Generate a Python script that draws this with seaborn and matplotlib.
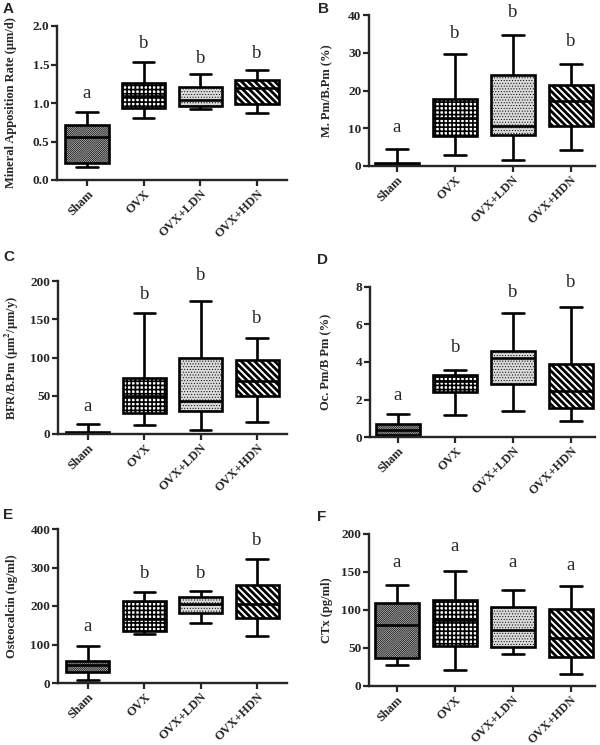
import matplotlib
matplotlib.use("Agg")
import matplotlib.pyplot as plt
import pandas as pd
import seaborn as sns

# groups and box summaries: [min, q1, median, q3, max]
groups = ["Sham", "OVX", "OVX+LDN", "OVX+HDN"]

mar = [[0.17, 0.22, 0.56, 0.71, 0.88],
       [0.80, 0.935, 1.09, 1.26, 1.53],
       [0.92, 0.96, 1.04, 1.21, 1.38],
       [0.87, 0.99, 1.20, 1.30, 1.43]]
mpm = [[0.0, 0.0, 0.3, 0.9, 4.5],
       [2.9, 8.05, 12.6, 17.7, 29.6],
       [1.5, 8.2, 10.6, 24.2, 34.8],
       [4.25, 10.7, 17.3, 21.5, 27.1]]
bfr = [[0.0, 0.5, 1.5, 3.0, 12.5],
       [12.2, 27.4, 49.6, 73.5, 158],
       [5.2, 30.4, 43, 100, 173.5],
       [15.7, 50, 69.6, 96.5, 126]]
ocpm = [[0.07, 0.12, 0.40, 0.71, 1.24],
        [1.16, 2.40, 3.0, 3.32, 3.56],
        [1.39, 2.84, 4.23, 4.59, 6.63],
        [0.85, 1.55, 2.45, 3.88, 6.93]]
ocn = [[8.7, 28.6, 46, 56.4, 95.4],
       [126, 134.5, 165, 214, 237],
       [156, 181, 204, 224, 238.6],
       [121.5, 170, 204, 254, 322]]
ctx = [[27, 37, 80.8, 108.7, 133],
       [20.5, 52.8, 87.3, 112.7, 151.5],
       [41.5, 51, 73.8, 103.5, 126.6],
       [16.2, 38, 63.3, 101.7, 131.4]]

# significance letters and their baseline heights
mar_sig = ["a", "b", "b", "b"]
mar_sig_y = [1.06, 1.71, 1.52, 1.59]
mpm_sig = ["a", "b", "b", "b"]
mpm_sig_y = [9.0, 33.8, 39.4, 31.9]
bfr_sig = ["a", "b", "b", "b"]
bfr_sig_y = [30.4, 177, 201, 145]
ocpm_sig = ["a", "b", "b", "b"]
ocpm_sig_y = [2.0, 4.53, 7.47, 8.0]
ocn_sig = ["a", "b", "b", "b"]
ocn_sig_y = [134.5, 274, 274, 358]
ctx_sig = ["a", "a", "a", "a"]
ctx_sig_y = [156, 177.7, 156, 153]

sns.set_style("ticks")
plt.rcParams["font.family"] = ["Liberation Serif", "DejaVu Serif"]
plt.rcParams["mathtext.fontset"] = "stix"
plt.rcParams["hatch.linewidth"] = 1.0

hatches = ["/" * 16, "+" * 4, "......", "\\" * 5]
faces = ["#c4c4c4", "white", "#d9d9d9", "white"]
hatch_lw = [0.5, 1.2, 0.4, 2.0]

W, H = 600, 745


def rect_px(left, top, right, bottom):
    return [left / W, 1 - bottom / H, (right - left) / W, (bottom - top) / H]


panels = [
    ("A", mar, mar_sig, mar_sig_y, "Mineral Apposition Rate (μm/d)", [0, 0.5, 1.0, 1.5, 2.0], "{:.1f}",
     rect_px(57, 26, 287, 180), (-0.53, 3.53), -0.175, (3, 2)),
    ("B", mpm, mpm_sig, mpm_sig_y, "M. Pm/B.Pm (%)", [0, 10, 20, 30, 40], "{:.0f}",
     rect_px(369, 15, 595, 166), (-0.48, 3.42), -0.16, (318, 2)),
    ("C", bfr, bfr_sig, bfr_sig_y, "BFR/B.Pm (μm$^\\mathbf{2}$/μm/y)", [0, 50, 100, 150, 200], "{:.0f}",
     rect_px(58, 281, 287, 434), (-0.53, 3.53), -0.16, (3, 250)),
    ("D", ocpm, ocpm_sig, ocpm_sig_y, "Oc. Pm/B Pm (%)", [0, 2, 4, 6, 8], "{:.0f}",
     rect_px(370, 287, 595, 437), (-0.48, 3.42), -0.168, (317, 253)),
    ("E", ocn, ocn_sig, ocn_sig_y, "Osteocalcin (ng/ml)", [0, 100, 200, 300, 400], "{:.0f}",
     rect_px(58, 529, 287, 683), (-0.53, 3.53), -0.175, (3, 508)),
    ("F", ctx, ctx_sig, ctx_sig_y, "CTx (pg/ml)", [0, 50, 100, 150, 200], "{:.0f}",
     rect_px(369, 534, 595, 686), (-0.48, 3.42), -0.16, (317, 510)),
]

fig = plt.figure(figsize=(W / 100, H / 100), dpi=100)

for letter, stats, sig, sig_y, ylabel, yticks, fmt, rect, xlim, labx, lpos in panels:
    ax = fig.add_axes(rect)
    df = pd.DataFrame({
        "group": [g for g, s in zip(groups, stats) for _ in s],
        "value": [v for s in stats for v in s],
    })
    sns.boxplot(data=df, x="group", y="value", order=groups, ax=ax,
                color="white", linecolor="black", linewidth=1.9, width=0.76,
                whis=(0, 100), showfliers=False)
    for patch, h, fc, hl in zip(ax.patches, hatches, faces, hatch_lw):
        patch.set_hatch(h)
        patch.set_facecolor(fc)
        patch.set_edgecolor("black")
        if hasattr(patch, "set_hatch_linewidth"):
            patch.set_hatch_linewidth(hl)

    for i, (s, y) in enumerate(zip(sig, sig_y)):
        ax.text(i, y, s, ha="center", va="baseline", fontsize=13.5, clip_on=False)

    ax.set_xlim(*xlim)
    ax.set_ylim(yticks[0], yticks[-1])
    ax.set_yticks(yticks)
    ax.set_yticklabels([fmt.format(t) for t in yticks], fontweight="bold", fontsize=9.5)
    ax.set_xticks(range(len(groups)))
    ax.set_xticklabels(groups, rotation=45, ha="right", rotation_mode="anchor",
                       fontweight="bold", fontsize=9)
    ax.set_xlabel("")
    ax.set_ylabel(ylabel, fontweight="bold", fontsize=9)
    ax.yaxis.set_label_coords(labx, 0.5)
    sns.despine(ax=ax)
    for sp in ["left", "bottom"]:
        ax.spines[sp].set_linewidth(1.7)
    ax.tick_params(axis="both", width=1.6, length=4, direction="out", pad=1.5)

    fig.text(lpos[0] / W, 1 - lpos[1] / H, letter, fontsize=11, fontweight="bold",
             family="Liberation Sans", va="top", ha="left")

fig.savefig("out.png", dpi=100)
